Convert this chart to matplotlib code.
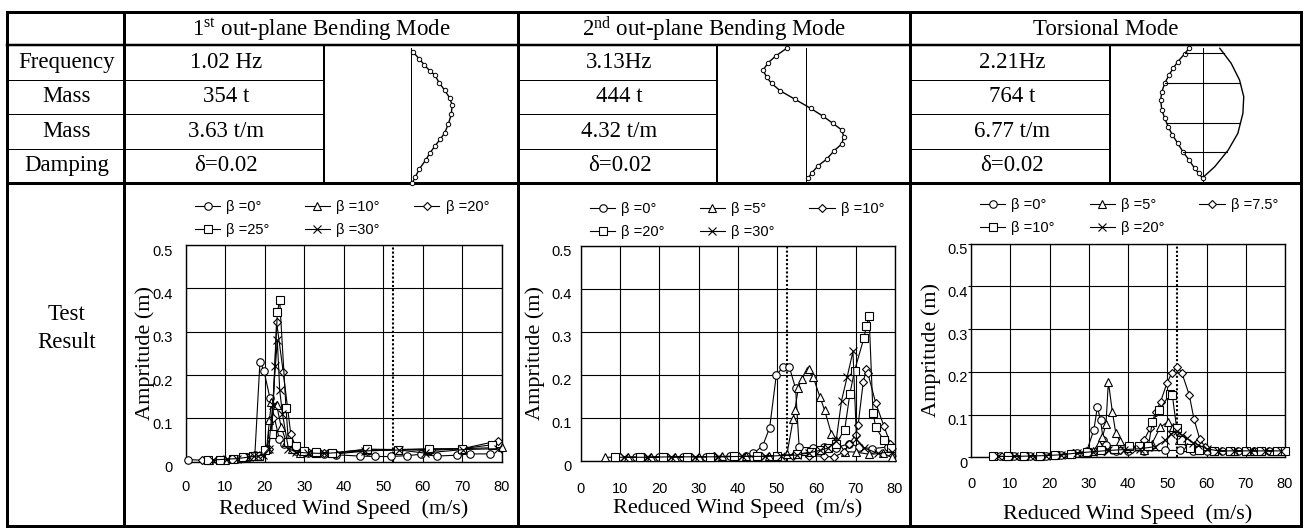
import matplotlib
matplotlib.use("Agg")
import matplotlib.pyplot as plt
from matplotlib.transforms import ScaledTranslation
import numpy as np

# ------------------------------------------------------------------ data
col_headers = ["1$^{\\mathrm{st}}$ out-plane Bending Mode",
               "2$^{\\mathrm{nd}}$ out-plane Bending Mode",
               "Torsional Mode"]
row_labels = ["Frequency", "Mass", "Mass", "Damping"]
mode1_values = ["1.02 Hz", "354 t", "3.63 t/m", "δ=0.02"]
mode2_values = ["3.13Hz", "444 t", "4.32 t/m", "δ=0.02"]
mode3_values = ["2.21Hz", "764 t", "6.77 t/m", "δ=0.02"]
result_label = ["Test", "Result"]

# mode shapes: h = fraction of height from top, d = normalised displacement
shape1_h = [0.03, 0.082, 0.126, 0.170, 0.200, 0.259, 0.311, 0.370, 0.422, 0.489,
            0.563, 0.630, 0.674, 0.726, 0.778, 0.830, 0.896, 0.956, 1.0]
shape1_d = [0.05, 0.20, 0.32, 0.45, 0.57, 0.67, 0.80, 0.92, 0.98, 0.96,
            0.89, 0.80, 0.70, 0.57, 0.45, 0.35, 0.20, 0.10, 0.03]
shape2_h = [0.002, 0.059, 0.109, 0.163, 0.217, 0.261, 0.316, 0.380, 0.447, 0.504,
            0.558, 0.607, 0.657, 0.711, 0.761, 0.824, 0.872, 0.924, 0.965]
shape2_d = [-0.46, -0.72, -0.90, -1.02, -0.94, -0.82, -0.62, -0.26, 0.11, 0.40,
            0.64, 0.85, 0.90, 0.85, 0.67, 0.49, 0.29, 0.14, 0.05]
shape3L_h = [0.002, 0.044, 0.101, 0.150, 0.200, 0.261, 0.324, 0.385, 0.459, 0.521,
             0.583, 0.644, 0.706, 0.768, 0.830, 0.891, 0.928, 0.965]
shape3L_d = [-0.33, -0.44, -0.60, -0.71, -0.81, -0.91, -0.98, -1.01, -0.98, -0.91,
             -0.83, -0.73, -0.60, -0.48, -0.33, -0.20, -0.10, -0.01]
shape3R_h = [0.002, 0.113, 0.237, 0.361, 0.484, 0.632, 0.756, 0.879, 0.953]
shape3R_d = [0.40, 0.67, 0.87, 0.97, 0.95, 0.83, 0.60, 0.28, 0.02]
shape3_rungs_h = [0.039, 0.261, 0.558, 0.768]

x_ticks = [0, 10, 20, 30, 40, 50, 60, 70, 80]
y_ticks = [0, 0.1, 0.2, 0.3, 0.4, 0.5]
y_tick_labels = ["0", "0.1", "0.2", "0.3", "0.4", "0.5"]
flutter_speed = 52.5

# ---- 1st bending mode test results
b1_labels = ["β =0°", "β =10°", "β =20°", "β =25°", "β =30°"]
b1_x0 = [0.5, 5, 9, 13, 16, 17.5, 18.8, 19.8, 21.3, 23.7, 25, 28, 31, 35, 38,
         44, 48, 52, 56, 59.5, 63.5, 68.6, 72, 77]
b1_y0 = [0.005, 0.003, 0.004, 0.006, 0.010, 0.015, 0.231, 0.210, 0.148, 0.052, 0.04, 0.025,
         0.020, 0.018, 0.016, 0.013, 0.012, 0.012, 0.014, 0.017, 0.013, 0.015, 0.018, 0.018]
b1_x10 = [6, 10, 14, 18, 20.5, 21.2, 21.7, 23.0, 24.2, 25.5, 27, 29, 33, 37,
          45.8, 53.8, 61, 70, 80]
b1_y10 = [0.004, 0.005, 0.008, 0.013, 0.030, 0.096, 0.138, 0.131, 0.079, 0.045, 0.030,
          0.020, 0.020, 0.020, 0.028, 0.028, 0.028, 0.030, 0.033]
b1_x20 = [4, 8, 12, 16, 19, 21, 22, 23.0, 24.7, 26.6, 28, 31, 35, 38, 46, 54, 62, 70, 79]
b1_y20 = [0.003, 0.004, 0.006, 0.011, 0.014, 0.030, 0.100, 0.323, 0.206, 0.064, 0.030,
          0.022, 0.020, 0.018, 0.025, 0.028, 0.026, 0.030, 0.048]
b1_x25 = [5.7, 8.7, 12, 14.6, 17, 18.5, 20.1, 21.8, 23.2, 23.8, 25.4, 26, 27.8, 30, 33, 37,
          45.8, 53.8, 61.5, 70, 77.5]
b1_y25 = [0.003, 0.003, 0.006, 0.010, 0.012, 0.013, 0.027, 0.065, 0.345, 0.372, 0.123,
          0.046, 0.036, 0.024, 0.022, 0.020, 0.029, 0.028, 0.030, 0.030, 0.039]
b1_x30 = [7, 10.5, 13, 16.1, 17.3, 18.4, 19.5, 21, 22, 22.7, 23.2, 23.8, 24.5, 26, 28, 31, 35,
          45.5, 54, 60.5, 70.3, 79]
b1_y30 = [0.004, 0.006, 0.007, 0.011, 0.012, 0.013, 0.015, 0.030, 0.130, 0.220, 0.280,
          0.165, 0.110, 0.030, 0.022, 0.020, 0.019, 0.025, 0.027, 0.020, 0.028, 0.030]

# ---- 2nd bending mode test results
b2_labels = ["β =0°", "β =5°", "β =10°", "β =20°", "β =30°"]
b2_x0 = [8.7, 14, 20, 26, 32, 38, 42, 43.9, 46.3, 48.1, 49.8, 51.5, 53.1, 54.7, 55.6,
         59.2, 62, 65, 68.4, 70.8, 74.2, 78.2]
b2_y0 = [0.008, 0.008, 0.008, 0.008, 0.009, 0.010, 0.012, 0.017, 0.034, 0.077, 0.200,
         0.217, 0.218, 0.168, 0.031, 0.030, 0.032, 0.030, 0.040, 0.032, 0.028, 0.032]
b2_x5 = [6.2, 12, 18, 24, 30, 36, 42, 48, 52.5, 54.1, 54.5, 55.4, 56.3, 57.5, 58.2, 59.2,
         60.9, 62.1, 63.8, 65.1, 67.2, 70, 73.5, 77, 79.2]
b2_y5 = [0.008, 0.008, 0.008, 0.009, 0.009, 0.010, 0.010, 0.011, 0.015, 0.098, 0.117,
         0.170, 0.190, 0.209, 0.213, 0.194, 0.148, 0.117, 0.063, 0.049, 0.021, 0.020,
         0.015, 0.017, 0.008]
b2_x10 = [10, 16, 22, 28, 34, 40, 46, 50, 54, 58, 62, 64.5, 67, 68.4, 70, 70.6, 71.9,
          72.7, 73.1, 75.1, 77.2, 78.8]
b2_y10 = [0.008, 0.008, 0.008, 0.009, 0.010, 0.010, 0.010, 0.012, 0.012, 0.012, 0.010,
          0.009, 0.020, 0.040, 0.060, 0.082, 0.182, 0.213, 0.203, 0.134, 0.080, 0.040]
b2_x20 = [8.7, 15, 21, 27, 33, 39, 45, 50, 55, 58.5, 61, 63, 65, 67.2, 68.5, 69.7, 72.1,
          72.7, 73.4, 74.4, 75.1, 77.1, 79]
b2_y20 = [0.008, 0.008, 0.009, 0.009, 0.009, 0.010, 0.010, 0.012, 0.015, 0.020, 0.025,
          0.030, 0.040, 0.072, 0.155, 0.209, 0.286, 0.313, 0.336, 0.111, 0.078, 0.048, 0.030]
b2_x30 = [11, 17, 23, 29, 35, 41, 47, 51, 55, 58, 61, 63, 65, 66.4, 67.8, 69.3, 70.2,
          72, 75.7, 79.2]
b2_y30 = [0.008, 0.008, 0.009, 0.009, 0.009, 0.010, 0.010, 0.012, 0.013, 0.018, 0.024,
          0.030, 0.045, 0.140, 0.194, 0.254, 0.050, 0.030, 0.017, 0.021]

# ---- torsional mode test results
t_labels = ["β =0°", "β =5°", "β =7.5°", "β =10°", "β =20°"]
t_x0 = [7.5, 11, 15, 19, 23, 27, 29.5, 31.3, 32.2, 33, 33.7, 34.3, 37, 40, 44, 49.4,
        53.2, 56.6, 60, 64, 68, 72, 76, 80]
t_y0 = [0.002, 0.002, 0.003, 0.004, 0.006, 0.010, 0.015, 0.064, 0.118, 0.087, 0.040,
        0.029, 0.015, 0.015, 0.015, 0.016, 0.016, 0.015, 0.015, 0.015, 0.015, 0.015,
        0.015, 0.015]
t_x5 = [9, 13, 17, 21, 25, 29, 31, 32.5, 33.5, 34.4, 35, 36, 36.9, 38, 40, 44, 46, 48.2,
        50.1, 51.5, 53, 55, 58, 62, 67, 72, 77]
t_y5 = [0.002, 0.003, 0.004, 0.005, 0.007, 0.010, 0.015, 0.030, 0.047, 0.079, 0.177,
        0.107, 0.056, 0.037, 0.022, 0.018, 0.030, 0.070, 0.083, 0.070, 0.040, 0.025,
        0.018, 0.015, 0.015, 0.015, 0.015]
t_x75 = [6, 10, 14, 18, 22, 26, 30, 34, 38, 41, 44.1, 45.6, 47.1, 48.3, 49.9, 51.1, 52.6,
         53.7, 55.6, 56.8, 58.3, 59.6, 62, 66, 70, 74, 78]
t_y75 = [0.002, 0.002, 0.003, 0.004, 0.006, 0.010, 0.012, 0.015, 0.018, 0.020, 0.040,
         0.068, 0.107, 0.130, 0.173, 0.196, 0.212, 0.198, 0.146, 0.090, 0.042, 0.025,
         0.015, 0.015, 0.015, 0.015, 0.015]
t_x10 = [5.7, 9.5, 13.5, 17.5, 21.5, 25.5, 29.5, 33, 36.5, 40.3, 42.9, 45.2, 46.2, 48,
         50.7, 51.3, 52.4, 53.4, 55.8, 58, 62, 66, 70, 74, 78, 80]
t_y10 = [0.002, 0.002, 0.003, 0.004, 0.005, 0.008, 0.012, 0.016, 0.020, 0.026, 0.026,
         0.026, 0.083, 0.110, 0.149, 0.145, 0.068, 0.040, 0.021, 0.016, 0.015, 0.015,
         0.015, 0.015, 0.015, 0.015]
t_x20 = [7, 11, 15, 19, 23, 27, 31, 35, 39, 43, 47, 49.5, 51, 52.4, 53.7, 55, 56.6, 57.9,
         60, 63, 67, 71, 75, 79]
t_y20 = [0.002, 0.002, 0.003, 0.004, 0.006, 0.010, 0.013, 0.016, 0.018, 0.020, 0.025,
         0.040, 0.055, 0.062, 0.052, 0.044, 0.034, 0.029, 0.020, 0.015, 0.015, 0.015,
         0.015, 0.015]

markers = ["o", "^", "D", "s", "x"]
marker_sizes = [5.4, 5.4, 4.4, 5.2, 5.7]

# ------------------------------------------------------------------ figure
W, H = 1305, 528
SERIF = ["Liberation Serif", "DejaVu Serif"]
SANS = ["Liberation Sans", "DejaVu Sans"]
plt.rcParams["font.family"] = SANS
plt.rcParams["mathtext.fontset"] = "custom"
plt.rcParams["mathtext.rm"] = "Liberation Serif"
plt.rcParams["mathtext.it"] = "Liberation Serif:italic"

fig = plt.figure(figsize=(W / 100, H / 100), dpi=100)
bg = fig.add_axes([0, 0, 1, 1])
bg.set_xlim(0, W)
bg.set_ylim(H, 0)
bg.axis("off")

PX = 0.72  # points per pixel


def seg(x0, y0, x1, y1, wpx):
    bg.plot([x0, x1], [y0, y1], color="k", lw=wpx * PX, solid_capstyle="projecting")


# table geometry (pixels)
L, R, T, B = 7, 1301, 12, 526
c_lab = 124
sections = [(124, 324, 518), (518, 717, 910), (910, 1110, 1301)]
hdr_b = 45
rows_y = [45, 80, 114, 148.5, 183]

seg(L, T, R, T, 3)
seg(L, hdr_b, R, hdr_b, 2.5)
seg(L, rows_y[-1], R, rows_y[-1], 3)
seg(L, B, R, B, 3)
for y in rows_y[1:-1]:
    seg(L, y, sections[0][1], y, 1)
    seg(sections[1][0], y, sections[1][1], y, 1)
    seg(sections[2][0], y, sections[2][1], y, 1)
for x in [L, c_lab, 518, 910, R]:
    seg(x, T, x, B, 3)
for s in sections:
    seg(s[1], hdr_b, s[1], rows_y[-1], 2)

# header texts
for s, txt in zip(sections, col_headers):
    bg.text((s[0] + s[2]) / 2, 29.5, txt, ha="center", va="center",
            fontsize=16.5, family=SERIF)
for i, lab in enumerate(row_labels):
    yc = (rows_y[i] + rows_y[i + 1]) / 2
    bg.text((L + c_lab) / 2 + 1, yc, lab, ha="center", va="center", fontsize=16.5, family=SERIF)
for s, vals in zip(sections, [mode1_values, mode2_values, mode3_values]):
    for i, v in enumerate(vals):
        yc = (rows_y[i] + rows_y[i + 1]) / 2
        bg.text((s[0] + s[1]) / 2 + 2, yc, v, ha="center", va="center",
                fontsize=16.5, family=SERIF)
bg.text((L + c_lab) / 2 + 1, 315, result_label[0], ha="center", va="center", fontsize=16.5, family=SERIF)
bg.text((L + c_lab) / 2 + 1, 343, result_label[1], ha="center", va="center", fontsize=16.5, family=SERIF)

# mode shapes
sh_top, sh_bot, sh_amp = 48, 183, 42.0


def to_px(axis_x, hs, ds):
    return (axis_x + np.array(ds) * sh_amp, sh_top + np.array(hs) * (sh_bot - sh_top))


for ax_x in [411, 806, 1203]:
    seg(ax_x, sh_top, ax_x, sh_bot, 1)

xs, ys = to_px(411, shape1_h, shape1_d)
bg.plot(xs, ys, color="k", lw=1.0, marker="o", ms=3.2, mfc="white", mec="k", mew=0.7)
xs, ys = to_px(806, shape2_h, shape2_d)
bg.plot(xs, ys, color="k", lw=1.0, marker="o", ms=3.2, mfc="white", mec="k", mew=0.7)
xl, yl = to_px(1203, shape3L_h, shape3L_d)
bg.plot(xl, yl, color="k", lw=1.0, marker="o", ms=3.2, mfc="white", mec="k", mew=0.7)
xr, yr = to_px(1203, shape3R_h, shape3R_d)
bg.plot(xr, yr, color="k", lw=1.0)
for hr in shape3_rungs_h:
    yy = sh_top + hr * (sh_bot - sh_top)
    x_left = np.interp(yy, yl, xl)
    x_right = np.interp(yy, yr, xr)
    bg.plot([x_left, x_right], [yy, yy], color="k", lw=0.8)


# ------------------------------------------------------------------ panels
def panel(rect, series, labels, ylab_cx, ypad_pt, ytick_len, xpad_pt, xlab_cy, leg_xy):
    l, t, r, b = rect
    ax = fig.add_axes([l / W, 1 - b / H, (r - l) / W, (b - t) / H])
    ax.set_xlim(0, 80)
    ax.set_ylim(0, 0.5)
    ax.set_xticks(x_ticks)
    ax.set_yticks(y_ticks)
    ax.set_yticklabels(y_tick_labels)
    ax.grid(True, color="k", lw=0.8)
    ax.set_axisbelow(True)
    for sp in ax.spines.values():
        sp.set_linewidth(1.0)
    ax.axvline(flutter_speed, color="k", lw=1.5, ls=(0, (1, 1)), zorder=1.5)
    ax.tick_params(axis="x", length=0, pad=xpad_pt, labelsize=10.5)
    ax.tick_params(axis="y", length=ytick_len, pad=ypad_pt, labelsize=10.5)
    for lab in ax.get_yticklabels():
        lab.set_transform(lab.get_transform() + ScaledTranslation(0, -5 / 100, fig.dpi_scale_trans))
    handles = []
    for (xv, yv), lab, mk, ms in zip(series, labels, markers, marker_sizes):
        h, = ax.plot(xv, yv, color="k", lw=0.8, marker=mk, ms=ms, mfc="white",
                     mec="k", mew=0.8, label=lab, zorder=3, clip_on=False)
        handles.append(h)
    ax.set_ylabel("Ampritude (m)", fontsize=16, family=SERIF)
    ax.yaxis.set_label_coords((ylab_cx - l) / (r - l), 0.5)
    ax.yaxis.label.set_va("center")
    ax.set_xlabel("Reduced Wind Speed  (m/s)", fontsize=16, family=SERIF)
    ax.xaxis.set_label_coords(0.5, (b - xlab_cy) / (b - t))
    ax.xaxis.label.set_va("center")
    order = [0, 3, 1, 4, 2]
    fig.legend([handles[i] for i in order], [labels[i] for i in order], ncol=3,
               frameon=False, fontsize=10.5, handlelength=1.72, handletextpad=0.42,
               columnspacing=2.4, labelspacing=0.62, borderpad=0, borderaxespad=0,
               loc="upper left", bbox_to_anchor=(leg_xy[0] / W, 1 - leg_xy[1] / H),
               bbox_transform=fig.transFigure)
    return ax


panel((185.7, 245, 501.7, 461.7),
      [(b1_x0, b1_y0), (b1_x10, b1_y10), (b1_x20, b1_y20), (b1_x25, b1_y25), (b1_x30, b1_y30)],
      b1_labels, 145, 9.1, 0, 13.2, 509, (195, 200))
panel((580.7, 245.7, 895, 460.7),
      [(b2_x0, b2_y0), (b2_x5, b2_y5), (b2_x10, b2_y10), (b2_x20, b2_y20), (b2_x30, b2_y30)],
      b2_labels, 535, 6.3, 0, 15, 508, (590, 202))
panel((971, 243.5, 1285, 457.3),
      [(t_x0, t_y0), (t_x5, t_y5), (t_x75, t_y75), (t_x10, t_y10), (t_x20, t_y20)],
      t_labels, 931, 0.5, 2.2, 14, 514, (980, 198))

fig.savefig("out.png", dpi=100)
